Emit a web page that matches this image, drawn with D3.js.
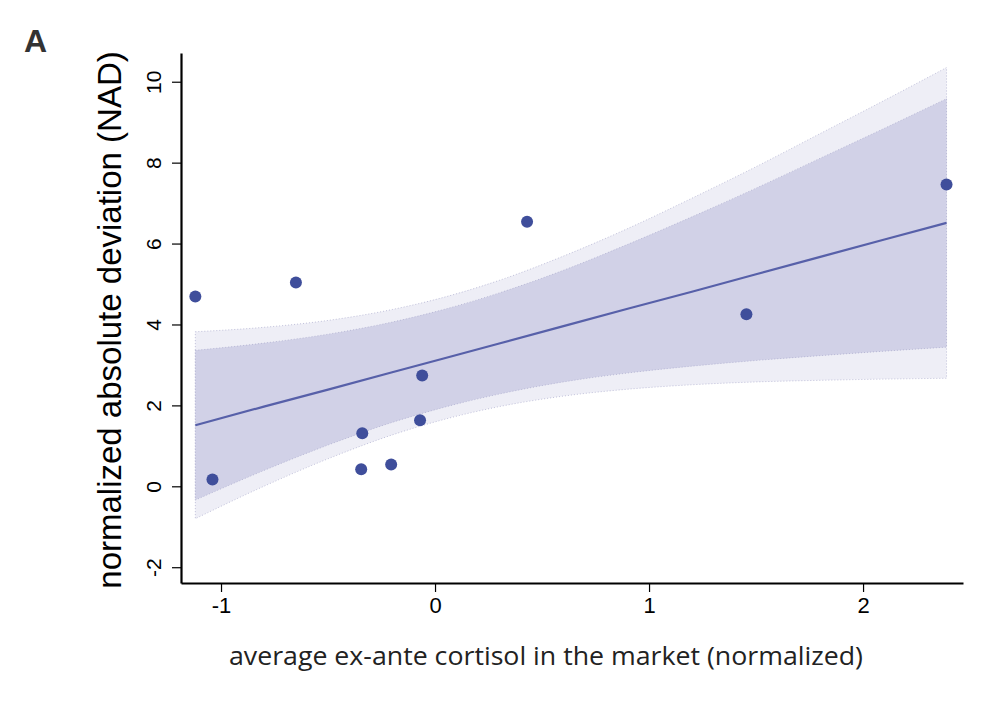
<!DOCTYPE html>
<html>
<head>
<meta charset="utf-8">
<script src="https://cdn.jsdelivr.net/npm/d3@7"></script>
<style>
  body { margin: 0; background: #fff; }
  text { font-family: "Liberation Sans", Arial, sans-serif; }
</style>
</head>
<body>
<div id="container"></div>
<script>
// points
const cortisol = [-1.12, -1.04, -0.65, -0.34, -0.345, -0.205, -0.06, -0.07, 0.43, 1.455, 2.39];
const nad = [4.69, 0.17, 5.04, 1.31, 0.42, 0.54, 2.74, 1.63, 6.54, 4.25, 7.46];

// fit line and the two bands, sampled along x
const bandX = [-1.12, -0.8, -0.5, -0.2, 0.04, 0.3, 0.6, 0.9, 1.2, 1.5, 1.8, 2.1, 2.39];
const fitY = [1.51, 1.97, 2.39, 2.82, 3.16, 3.53, 3.96, 4.39, 4.81, 5.24, 5.67, 6.1, 6.51];
const outerHi = [3.82, 3.93, 4.1, 4.37, 4.67, 5.09, 5.69, 6.37, 7.12, 7.9, 8.72, 9.54, 10.35];
const outerLo = [-0.8, 0.0, 0.68, 1.27, 1.65, 1.97, 2.23, 2.4, 2.51, 2.58, 2.62, 2.65, 2.67];
const innerHi = [3.36, 3.54, 3.76, 4.06, 4.37, 4.78, 5.34, 5.98, 6.66, 7.37, 8.11, 8.85, 9.58];
const innerLo = [-0.34, 0.39, 1.02, 1.58, 1.95, 2.28, 2.58, 2.8, 2.97, 3.11, 3.23, 3.34, 3.44];

const xTicks = [-1, 0, 1, 2];
const yTicks = [-2, 0, 2, 4, 6, 8, 10];

const w = 996;
const h = 712;

const xScale = d3.scaleLinear().domain([-1.187, 2.467]).range([181, 963]);
const yScale = d3.scaleLinear().domain([-2.39, 10.71]).range([583, 53]);

let svg = d3.select("#container").append("svg").attr("width", w).attr("height", h);

// bands
const band = (lo, hi) => d3.area()
  .x((d, i) => xScale(bandX[i]))
  .y0((d, i) => yScale(lo[i]))
  .y1((d, i) => yScale(hi[i]))
  .curve(d3.curveMonotoneX);

svg.append("path")
  .attr("d", band(outerLo, outerHi)(bandX))
  .attr("fill", "#eeeef6")
  .attr("stroke", "#a9a9cc")
  .attr("stroke-width", 0.7)
  .attr("stroke-dasharray", "1,2");

svg.append("path")
  .attr("d", band(innerLo, innerHi)(bandX))
  .attr("fill", "#d1d1e7")
  .attr("stroke", "#a9a9cc")
  .attr("stroke-width", 0.7)
  .attr("stroke-dasharray", "1,2");

// fit line
svg.append("path")
  .attr("d", d3.line()
    .x((d, i) => xScale(bandX[i]))
    .y((d, i) => yScale(fitY[i]))(bandX))
  .attr("fill", "none")
  .attr("stroke", "#5760a9")
  .attr("stroke-width", 2.2);

// dots
svg.selectAll("circle")
  .data(cortisol)
  .enter()
  .append("circle")
  .attr("cx", (d) => xScale(d))
  .attr("cy", (d, i) => yScale(nad[i]))
  .attr("r", 6)
  .attr("fill", "#3f4e9b");

// axes
const fmt = (d) => String(d);
var x_axis = d3.axisBottom(xScale).tickValues(xTicks).tickFormat(fmt)
  .tickSize(9).tickSizeOuter(0).tickPadding(5);
var y_axis = d3.axisLeft(yScale).tickValues(yTicks).tickFormat(fmt)
  .tickSize(9).tickSizeOuter(0);

let gx = svg.append("g")
  .attr("transform", "translate(0, 583)")
  .call(x_axis);
gx.select(".domain").attr("stroke-width", 2.2);
gx.selectAll(".tick line").attr("stroke-width", 1.2);
gx.selectAll(".tick text")
  .style("font-size", "22px").attr("fill", "#000")
  .style("font-family", "Liberation Sans, Arial, sans-serif");

let gy = svg.append("g")
  .attr("transform", "translate(181, 0)")
  .call(y_axis);
gy.select(".domain").attr("stroke-width", 2.2);
gy.selectAll(".tick line").attr("stroke-width", 1.2);
gy.selectAll(".tick text")
  .attr("x", null).attr("dy", null)
  .attr("transform", "translate(-20,0) rotate(-90)")
  .attr("text-anchor", "middle")
  .style("font-size", "21px").attr("fill", "#000")
  .style("font-family", "Liberation Sans, Arial, sans-serif");

// labels
svg.append("text")
  .attr("x", 546)
  .attr("y", 665)
  .attr("text-anchor", "middle")
  .attr("textLength", 634)
  .attr("lengthAdjust", "spacingAndGlyphs")
  .style("font-family", "Open Sans, sans-serif")
  .style("font-size", "25px")
  .attr("fill", "#222")
  .text("average ex-ante cortisol in the market (normalized)");

svg.append("text")
  .attr("transform", "rotate(-90)")
  .attr("x", -320)
  .attr("y", 121)
  .attr("text-anchor", "middle")
  .style("font-size", "33px")
  .attr("fill", "#000")
  .text("normalized absolute deviation (NAD)");

svg.append("text")
  .attr("x", 24)
  .attr("y", 52)
  .style("font-size", "32px")
  .style("font-weight", "bold")
  .attr("fill", "#333")
  .text("A");
</script>
</body>
</html>
